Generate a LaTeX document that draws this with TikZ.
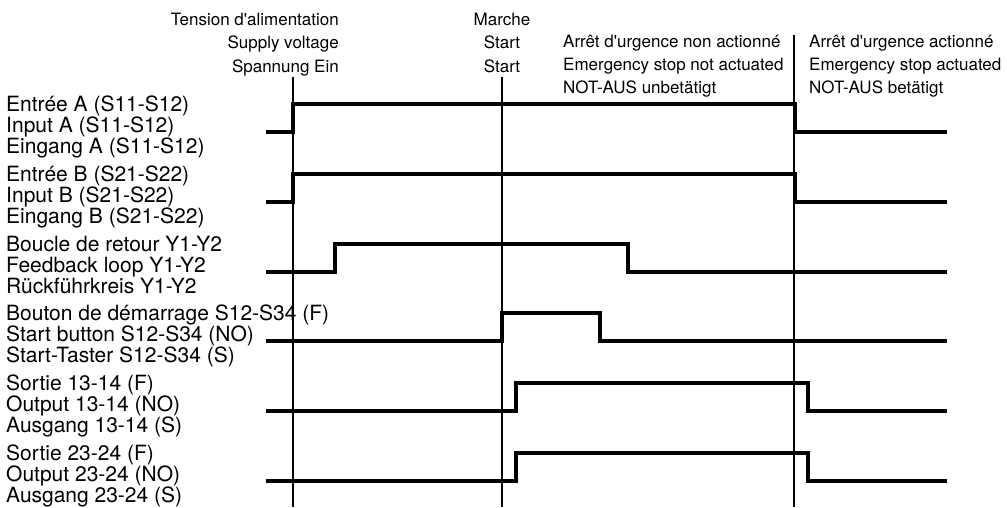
\documentclass[tikz,border=0pt]{standalone}
\usepackage{fontspec}
\setmainfont{TeX Gyre Heros}
\newcommand{\hd}{\fontsize{17}{23}\selectfont}
\newcommand{\lb}{\fontsize{21}{21}\selectfont}
\newcommand{\ap}{\textquotesingle}
\tikzset{
  sig/.style={line width=4.2pt, line join=miter},
  mark line/.style={line width=2pt},
  hdtxt/.style={inner sep=0pt, font=\hd},
  lbtxt/.style={inner sep=0pt, font=\lb, anchor=base west}
}

\begin{document}
\begin{tikzpicture}[x=1pt,y=-1pt]
   \useasboundingbox (0,0) rectangle (1007,507);
   % time marks
   \draw[mark line] (293, 77) -- (293,507);
   \draw[mark line] (502, 77) -- (502,507);
   \draw[mark line] (794, 35) -- (794,507);
   % signals
   \draw[sig] (266,132) -- (293,132) -- (293,104) -- (795,104) -- (795,132) -- (947,132);
   \draw[sig] (266,202) -- (293,202) -- (293,174) -- (795,174) -- (795,202) -- (947,202);
   \draw[sig] (266,272) -- (335,272) -- (335,244) -- (628,244) -- (628,272) -- (947,272);
   \draw[sig] (266,341) -- (502,341) -- (502,313) -- (600,313) -- (600,341) -- (947,341);
   \draw[sig] (266,411) -- (516,411) -- (516,383) -- (808,383) -- (808,411) -- (947,411);
   \draw[sig] (266,481) -- (516,481) -- (516,453) -- (808,453) -- (808,481) -- (947,481);
   % header
   \node[hdtxt,anchor=base east] (pw1) at (339, 25) {Tension d\ap alimentation};
   \node[hdtxt,anchor=base east] (pw2) at (339, 48) {Supply voltage};
   \node[hdtxt,anchor=base east] (pw3) at (339, 72) {Spannung Ein};
   \node[hdtxt,anchor=base]      (st1) at (502, 25) {Marche};
   \node[hdtxt,anchor=base]      (st2) at (502, 48) {Start};
   \node[hdtxt,anchor=base]      (st3) at (502, 72) {Start};
   \node[hdtxt,anchor=base west] (en1) at (563, 47) {Arrêt d\ap urgence non actionné};
   \node[hdtxt,anchor=base west] (en2) at (563, 70) {Emergency stop not actuated};
   \node[hdtxt,anchor=base west] (en3) at (563, 93) {NOT-AUS unbetätigt};
   \node[hdtxt,anchor=base west] (ea1) at (809, 47) {Arrêt d\ap urgence actionné};
   \node[hdtxt,anchor=base west] (ea2) at (809, 70) {Emergency stop actuated};
   \node[hdtxt,anchor=base west] (ea3) at (809, 93) {NOT-AUS betätigt};
   % signal names
   \node[lbtxt] (ia1) at (6,111) {Entrée A (S11-S12)};
   \node[lbtxt] (ia2) at (6,132) {Input A (S11-S12)};
   \node[lbtxt] (ia3) at (6,153) {Eingang A (S11-S12)};
   \node[lbtxt] (ib1) at (6,181) {Entrée B (S21-S22)};
   \node[lbtxt] (ib2) at (6,202) {Input B (S21-S22)};
   \node[lbtxt] (ib3) at (6,223) {Eingang B (S21-S22)};
   \node[lbtxt] (fb1) at (6,251) {Boucle de retour Y1-Y2};
   \node[lbtxt] (fb2) at (6,272) {Feedback loop Y1-Y2};
   \node[lbtxt] (fb3) at (6,293) {Rückführkreis Y1-Y2};
   \node[lbtxt] (sb1) at (6,320) {Bouton de démarrage S12-S34 (F)};
   \node[lbtxt] (sb2) at (6,341) {Start button S12-S34 (NO)};
   \node[lbtxt] (sb3) at (6,362) {Start-Taster S12-S34 (S)};
   \node[lbtxt] (oa1) at (6,390) {Sortie 13-14 (F)};
   \node[lbtxt] (oa2) at (6,411) {Output 13-14 (NO)};
   \node[lbtxt] (oa3) at (6,432) {Ausgang 13-14 (S)};
   \node[lbtxt] (ob1) at (6,460) {Sortie 23-24 (F)};
   \node[lbtxt] (ob2) at (6,481) {Output 23-24 (NO)};
   \node[lbtxt] (ob3) at (6,502) {Ausgang 23-24 (S)};
\end{tikzpicture}
\end{document}
